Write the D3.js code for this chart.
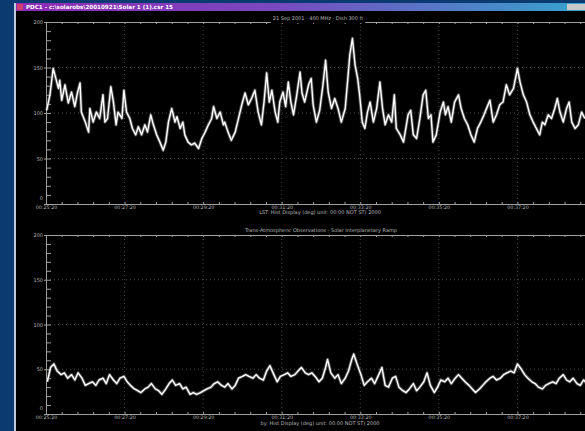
<!DOCTYPE html>
<html>
<head>
<meta charset="utf-8">
<script src="https://cdn.jsdelivr.net/npm/d3@7"></script>
<style>
html,body{margin:0;padding:0;background:#0a3a70;overflow:hidden}
svg{display:block}
</style>
</head>
<body>
<svg id="c" width="585" height="431"></svg>
<script>
// Upper trace: time since start (s) and signal level
const topT = [1,6,11,15,19,21,24,29,34,39,44,48,52,54,60,65,67,72,77,82,87,90,94,99,103,107,110,116,119,123,128,132,137,141,146,151,155,160,164,169,174,179,183,187,192,197,200,205,209,212,217,222,227,233,238,243,248,253,256,261,266,271,
  273,278,283,289,294,299,304,309,314,319,324,329,333,337,341,345,350,354,357,362,366,370,374,378,383,388,391,395,401,405,408,413,418,423,427,431,436,441,446,451,457,461,464,468,472,476,479,483,487,491,495,500,505,510,514,518,523,528,532,535,541,546,
  553,557,561,566,571,576,580,584,588,591,596,602,607,610,614,619,624,630,634,639,644,649,654,659,664,669,674,678,683,688,693,698,703,708,714,720,724,729,734,739,744,749,754,758,762,767,772,777,781,785,790,795,799,803,808,813,818,823];
const topV = [103,120,149,138,127,136,114,131,111,123,107,122,133,101,90,79,105,90,101,94,120,90,94,129,112,87,101,94,125,101,94,83,76,85,76,87,79,98,87,76,68,59,68,90,105,90,96,83,90,76,68,65,67,61,72,79,87,94,107,94,101,87,
  90,79,70,79,94,109,122,109,116,125,101,87,112,144,112,125,101,90,112,123,107,134,112,98,120,145,122,112,131,138,109,90,103,131,158,123,105,116,105,90,105,138,164,182,153,138,120,90,83,101,112,90,105,134,105,87,98,90,120,83,76,68,
  98,103,76,72,94,120,125,94,98,68,76,101,112,98,107,90,112,120,105,94,87,76,68,83,90,98,107,114,90,98,109,112,131,120,127,149,134,120,112,98,90,83,76,90,87,98,94,105,116,101,90,105,112,90,83,87,101,94];

// Lower trace
const botT = [2,7,12,17,23,28,33,39,44,49,55,60,65,71,76,81,87,92,97,103,108,113,119,124,129,135,140,145,151,156,
  161,167,172,177,183,188,193,198,204,209,214,220,225,230,236,241,246,252,257,262,268,273,278,284,289,294,300,305,310,316,
  321,326,332,337,342,348,353,358,364,369,374,380,385,390,396,401,406,411,417,422,427,430,435,441,446,451,457,462,467,470,
  475,481,486,491,497,502,507,513,518,523,529,534,539,545,550,555,561,566,571,577,582,587,593,598,603,609,614,619,625,630,
  635,640,646,651,656,662,667,672,678,683,688,694,699,704,710,715,720,726,731,736,742,747,752,758,763,768,774,779,784,790,
  795,800,805,811,816,821,826];
const botV = [36,52,56,48,44,46,40,44,38,46,40,32,34,36,32,38,40,34,44,38,34,40,42,36,32,28,26,24,28,30,
  34,28,26,22,28,34,38,32,34,28,30,22,24,22,24,26,28,30,34,36,32,30,34,28,32,40,42,44,42,40,
  44,40,38,48,54,44,36,42,44,46,42,44,48,52,46,44,46,42,36,40,52,61,46,40,44,34,40,48,61,67,
  56,44,32,36,40,34,42,52,32,30,40,42,30,26,24,28,34,26,30,36,46,32,24,30,38,36,40,34,40,44,
  40,36,32,28,24,28,32,36,40,42,38,40,44,46,48,46,56,50,44,40,36,34,30,28,32,34,36,34,40,44,
  38,36,40,34,32,38,34];

const yTicks = [0, 50, 100, 150, 200];
const yTickLabels = ["0", "50", "100", "150", "200"];
const xTicks = [0, 120, 240, 360, 480, 600, 720, 840];
const xLabelTicks = [0, 120, 240, 360, 480, 600, 720];
const xTickLabels = ["00:25:20", "00:27:20", "00:29:20", "00:31:20", "00:33:20", "00:35:20", "00:37:20"];

const windowTitle = "PDC1 - c:\\solarobs\\20010921\\Solar 1 (1).csr      15";
const topTitle = "21 Sep 2001 \u00B7 400 MHz \u00B7 Dish 300 ft";
const topCaption = "LST: Hist Display (deg)  unit: 00:00  NOT ST) 2000";
const botTitle = "Trans-Atmospheric Observations - Solar Interplanetary Ramp";
const botCaption = "by: Hist Display (deg)  unit: 00:00 NOT ST) 2000";

const svg = d3.select("#c");
const W = 585, H = 431;
const axisCol = "#a0a0a0";
const txtCol = "#b8b8b8";
const font = "'DejaVu Sans', sans-serif";

// window frame
svg.append("rect").attr("width", W).attr("height", H).attr("fill", "#0a3a70");
const defs = svg.append("defs");
const g = defs.append("linearGradient").attr("id", "tb").attr("x1", 0).attr("x2", 1).attr("y1", 0).attr("y2", 0);
g.append("stop").attr("offset", "0%").attr("stop-color", "#8e2ab4");
g.append("stop").attr("offset", "45%").attr("stop-color", "#7a48c0");
g.append("stop").attr("offset", "100%").attr("stop-color", "#36a4cc");
svg.append("rect").attr("x", 16).attr("y", 3).attr("width", W - 16).attr("height", 8).attr("fill", "url(#tb)");
svg.append("rect").attr("x", 16).attr("y", 11).attr("width", W - 16).attr("height", H - 11).attr("fill", "#000");
svg.append("rect").attr("x", 14).attr("y", 3).attr("width", 2).attr("height", H - 3).attr("fill", "#c0cadb");
svg.append("rect").attr("x", 17).attr("y", 4).attr("width", 6).attr("height", 6).attr("fill", "#d04070");
svg.append("rect").attr("x", 567).attr("y", 4).attr("width", 18).attr("height", 6).attr("fill", "#c8c8c8");
svg.append("text").attr("x", 26).attr("y", 9.3).attr("fill", "#fff")
  .attr("font-family", font).attr("font-size", 5.6).attr("font-weight", "bold").text(windowTitle);

const x = d3.scaleLinear().domain([0, 840]).range([46, 596]);

function panel(yTop, yBot, T, V, title, caption, titleX, titleY, captionY) {
  const y = d3.scaleLinear().domain([0, 200]).range([yBot, yTop]);
  const p = svg.append("g");

  // dotted grid
  p.selectAll(".gy").data([50, 100, 150]).join("line")
    .attr("x1", 46).attr("x2", 596).attr("y1", d => y(d)).attr("y2", d => y(d))
    .attr("stroke", "#5a5a5a").attr("stroke-width", 0.8).attr("stroke-dasharray", "1,3");
  p.selectAll(".gx").data(xTicks.slice(1)).join("line")
    .attr("x1", d => x(d)).attr("x2", d => x(d)).attr("y1", yTop).attr("y2", yBot)
    .attr("stroke", "#5a5a5a").attr("stroke-width", 0.8).attr("stroke-dasharray", "1,3");

  // minor ticks on y axis, pointing inward
  const minorY = p.append("g").attr("transform", `translate(46,0)`)
    .call(d3.axisRight(y).tickValues(d3.range(0, 201, 10)).tickSize(5).tickFormat(""));
  minorY.select(".domain").remove();
  minorY.selectAll("line").attr("stroke", axisCol);

  // y axis with labels
  const ay = p.append("g").attr("transform", `translate(46,0)`)
    .call(d3.axisLeft(y).tickValues(yTicks).tickSize(2).tickPadding(1)
      .tickFormat((d, i) => yTickLabels[i]));
  ay.select(".domain").attr("stroke", axisCol);
  ay.selectAll("line").attr("stroke", axisCol);
  ay.selectAll("text").attr("fill", txtCol).attr("font-size", 5).attr("font-family", font)
    .attr("dy", d => d === 0 ? "-0.9em" : "0.32em");

  // top frame line with small ticks
  const at = p.append("g").attr("transform", `translate(0,${yTop})`)
    .call(d3.axisBottom(x).tickValues(d3.range(0, 841, 24)).tickSize(2).tickFormat(""));
  at.select(".domain").attr("stroke", axisCol);
  at.selectAll("line").attr("stroke", axisCol);

  // bottom time axis
  const ab = p.append("g").attr("transform", `translate(0,${yBot})`)
    .call(d3.axisTop(x).tickValues(d3.range(0, 841, 24)).tickSize(2).tickFormat(""));
  ab.select(".domain").attr("stroke", axisCol);
  ab.selectAll("line").attr("stroke", axisCol);
  const abl = p.append("g").attr("transform", `translate(0,${yBot})`)
    .call(d3.axisBottom(x).tickValues(xLabelTicks).tickSize(0).tickPadding(2)
      .tickFormat((d, i) => xTickLabels[i]));
  abl.select(".domain").remove();
  abl.selectAll("text").attr("fill", txtCol).attr("font-size", 4.8).attr("font-family", font);

  // trace
  const pts = T.map((t, i) => [t, V[i]]);
  const line = d3.line().x(d => x(d[0])).y(d => y(d[1]));
  p.append("path").datum(pts).attr("d", line).attr("fill", "none")
    .attr("stroke", "#909090").attr("stroke-width", 3.2).attr("stroke-opacity", 0.55)
    .attr("stroke-linejoin", "round");
  p.append("path").datum(pts).attr("d", line).attr("fill", "none")
    .attr("stroke", "#ffffff").attr("stroke-width", 1.4).attr("stroke-linejoin", "round");

  // panel title over the frame line, on a black backing
  const bg = p.append("rect").attr("fill", "#000");
  const tt = p.append("text").attr("x", titleX).attr("y", titleY).attr("text-anchor", "middle")
    .attr("fill", txtCol).attr("font-size", 5).attr("font-family", font).text(title);
  const bb = tt.node().getBBox();
  bg.attr("x", bb.x - 2).attr("y", bb.y - 1).attr("width", bb.width + 4).attr("height", bb.height + 2);

  // caption under the time axis
  p.append("text").attr("x", 320).attr("y", captionY).attr("text-anchor", "middle")
    .attr("fill", txtCol).attr("font-size", 5).attr("font-family", font).text(caption);
}

panel(22, 204, topT, topV, topTitle, topCaption, 318, 20, 214);
panel(235, 414, botT, botV, botTitle, botCaption, 321, 232, 425);
</script>
</body>
</html>
